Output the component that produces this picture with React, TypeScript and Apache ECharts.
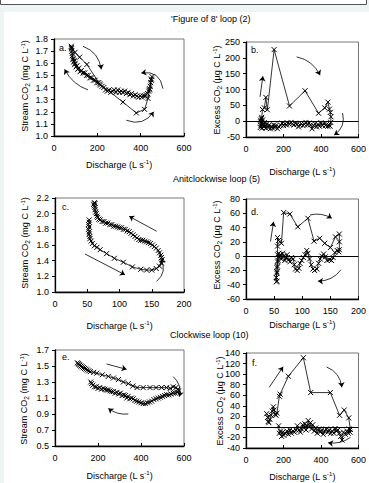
import React, { useEffect, useRef } from 'react';
import * as echarts from 'echarts';

type Pt = [number, number];
type Arrow = { from: Pt; to: Pt; curve: number };

const FONT = '"Liberation Sans", Arial, sans-serif';

const rowTitles = ["'Figure of 8' loop (2)", 'Anitclockwise loop (5)', 'Clockwise loop (10)'];
const panelLetters = ['a.', 'b.', 'c.', 'd.', 'e.', 'f.'];
const streamName = 'Stream CO{sub|2} (mg C L{sup|-1})';
const excessName = 'Excess CO{sub|2} (\u00b5g C L{sup|-1})';
const dischargeName = 'Discharge (L s{sup|-1})';

// axis ranges [min, max, interval]
const qWide = [0, 600, 200];
const qNarrow = [0, 200, 50];
const aStreamAxis = [1.0, 1.8, 0.1];
const bExcessAxis = [-50, 250, 50];
const cStreamAxis = [1.0, 2.2, 0.2];
const dExcessAxis = [-60, 80, 20];
const eStreamTicks = [0.5, 0.7, 0.9, 1.1, 1.3, 1.5, 1.7];
const fExcessAxis = [-40, 140, 20];

// ---- Panel a: figure-of-8 loop, stream CO2 ----
const aRising: Pt[] = [
  [80, 1.74], [97, 1.69], [118, 1.65], [152, 1.59], [211, 1.43], [318, 1.28],
  [380, 1.19], [418, 1.22], [434, 1.31], [441, 1.38], [449, 1.47],
];
const aFalling: Pt[] = [
  [452, 1.49], [449, 1.46], [446, 1.44], [444, 1.41], [441, 1.39], [437, 1.37], [432, 1.35],
  [426, 1.34], [419, 1.33], [412, 1.33], [405, 1.32], [398, 1.33], [390, 1.32], [382, 1.33],
  [374, 1.34], [366, 1.33], [358, 1.35], [350, 1.34], [342, 1.36], [334, 1.35], [326, 1.37],
  [318, 1.36], [310, 1.37], [302, 1.36], [294, 1.38], [286, 1.36], [278, 1.38], [270, 1.37],
  [262, 1.36], [254, 1.38], [246, 1.37], [238, 1.38], [230, 1.40], [222, 1.41], [214, 1.42],
  [206, 1.44], [198, 1.44], [190, 1.46], [182, 1.46], [174, 1.48], [166, 1.48], [158, 1.50],
  [150, 1.50], [142, 1.52], [134, 1.52], [126, 1.54], [120, 1.53], [114, 1.56], [110, 1.55],
  [106, 1.58], [102, 1.57], [98, 1.60], [96, 1.59], [93, 1.62], [91, 1.61], [89, 1.64],
  [87, 1.63], [85, 1.66], [84, 1.68], [82, 1.70], [81, 1.72], [80, 1.73],
];
const aArrows: Arrow[] = [
  { from: [134, 1.74], to: [218, 1.55], curve: 0.3 },
  { from: [157, 1.38], to: [49, 1.55], curve: 0.2 },
  { from: [334, 1.13], to: [460, 1.2], curve: -0.4 },
  { from: [503, 1.39], to: [403, 1.52], curve: -0.5 },
];

// ---- Panel b: figure-of-8 loop, excess CO2 ----
const bRising: Pt[] = [
  [78, 3], [84, 12], [88, 37], [98, 42], [106, 75], [114, 36], [150, 226], [232, 48],
  [315, 96], [387, 25], [420, 42], [437, 60], [445, 38], [450, 28], [453, 14],
];
const bFalling: Pt[] = [
  [452, -4], [448, -16], [442, -12], [436, -16], [430, -10], [424, -14], [416, -7], [408, -14],
  [400, -5], [392, -16], [384, -10], [376, -18], [368, -8], [360, -14], [352, -24], [344, -12],
  [336, -6], [328, -12], [320, -4], [312, -10], [304, -14], [296, -8], [288, -12], [280, -18],
  [272, -10], [264, -6], [256, -12], [248, -8], [240, -4], [232, -10], [224, -6], [216, -12],
  [208, -8], [200, -14], [192, -6], [184, -12], [176, -18], [168, -24], [160, -14], [154, -20],
  [148, -12], [142, -22], [136, -16], [130, -24], [124, -12], [118, -20], [112, -8], [106, -22],
  [102, -14], [98, -4], [95, -18], [92, -10], [89, 4], [86, -22], [84, -6], [82, 8], [80, -14],
  [78, -2], [76, -20],
];
const bArrows: Arrow[] = [
  { from: [75, 77], to: [90, 142], curve: 0 },
  { from: [270, 203], to: [395, 145], curve: 0.25 },
  { from: [515, 26], to: [470, -44], curve: 0.35 },
];

// ---- Panel c: anticlockwise loop, stream CO2 ----
const cRising: Pt[] = [
  [53, 1.92], [53, 1.89], [52, 1.86], [53, 1.83], [52, 1.80], [53, 1.77], [53, 1.74], [54, 1.71],
  [54, 1.68], [56, 1.65], [58, 1.62], [61, 1.59], [65, 1.57], [70, 1.54], [80, 1.49], [92, 1.43],
  [106, 1.38], [120, 1.32], [133, 1.29], [142, 1.28], [150, 1.28], [157, 1.30], [162, 1.33],
  [165, 1.37], [166, 1.41],
];
const cFalling: Pt[] = [
  [165, 1.44], [164, 1.47], [162, 1.50], [160, 1.53], [157, 1.56], [154, 1.58], [151, 1.60],
  [148, 1.62], [145, 1.63], [142, 1.64], [139, 1.65], [136, 1.66], [133, 1.66], [130, 1.67],
  [127, 1.69], [124, 1.71], [121, 1.73], [118, 1.75], [115, 1.77], [112, 1.78], [109, 1.80],
  [106, 1.80], [103, 1.82], [100, 1.82], [97, 1.83], [94, 1.84], [91, 1.84], [88, 1.86],
  [85, 1.86], [82, 1.88], [79, 1.88], [76, 1.90], [73, 1.90], [70, 1.92], [68, 1.93], [66, 1.95],
  [65, 1.97], [64, 2.00], [63, 2.02], [62, 2.05], [62, 2.08], [61, 2.10], [60, 2.12], [61, 2.14],
  [62, 2.13],
];
const cArrows: Arrow[] = [
  { from: [157.6, 1.775], to: [115, 1.966], curve: 0 },
  { from: [46.5, 1.485], to: [108.5, 1.22], curve: 0 },
  { from: [157.6, 1.136], to: [164, 1.42], curve: -0.4 },
];

// ---- Panel d: anticlockwise loop, excess CO2 ----
const dRising: Pt[] = [
  [54, -36], [54, -30], [55, -24], [55, -16], [56, -8], [56, 2], [56, 14], [56, 26], [58, 22],
  [60, 20], [63, 18], [67, 61], [78, 59], [92, 41], [110, 53], [121, 21], [131, 25], [140, 18],
  [150, 12], [159, 27], [166, 31], [166, 20], [166, 9],
];
const dFalling: Pt[] = [
  [165, 6], [162, 8], [158, 5], [155, -2], [152, -6], [148, -5], [144, -6], [141, -1], [138, 3],
  [135, 0], [132, -4], [129, -10], [126, -18], [122, -20], [119, -18], [116, -12], [113, -4],
  [110, 4], [108, 8], [105, 2], [102, -2], [99, -6], [96, -10], [94, -17], [91, -20], [88, -18],
  [86, -12], [84, -4], [81, -2], [78, -8], [76, -5], [73, 2], [71, -3], [69, -6], [67, 0],
  [65, 4], [63, -4], [61, 2], [59, -2], [58, 4], [57, -6], [56, -14], [55, -22], [54, -30],
  [55, -35],
];
const dArrows: Arrow[] = [
  { from: [43.5, 20.5], to: [49, 48], curve: 0 },
  { from: [114, 57.7], to: [152.6, 53], curve: 0.2 },
  { from: [169, -19], to: [128, -35], curve: 0.25 },
];

// ---- Panel e: clockwise loop, stream CO2 ----
const eRising: Pt[] = [
  [104, 1.54], [108, 1.53], [112, 1.52], [116, 1.51], [121, 1.50], [126, 1.49], [132, 1.48],
  [138, 1.47], [144, 1.46], [150, 1.45], [157, 1.44], [164, 1.43], [180, 1.42], [194, 1.41],
  [220, 1.39], [248, 1.37], [272, 1.35], [295, 1.33], [318, 1.30], [341, 1.28], [362, 1.25],
  [382, 1.23], [410, 1.23], [442, 1.23], [470, 1.23], [496, 1.23], [519, 1.23], [536, 1.22],
  [550, 1.24], [562, 1.23], [572, 1.21], [575, 1.19],
];
const eFalling: Pt[] = [
  [568, 1.17], [560, 1.16], [550, 1.16], [540, 1.15], [530, 1.14], [520, 1.14], [510, 1.13],
  [500, 1.12], [490, 1.11], [480, 1.10], [470, 1.09], [460, 1.08], [450, 1.06], [440, 1.05],
  [430, 1.04], [420, 1.03], [410, 1.03], [400, 1.04], [390, 1.05], [380, 1.06], [372, 1.07],
  [364, 1.09], [356, 1.10], [348, 1.09], [340, 1.12], [334, 1.10], [328, 1.13], [320, 1.14],
  [312, 1.13], [304, 1.16], [296, 1.15], [288, 1.17], [280, 1.16], [272, 1.18], [264, 1.18],
  [256, 1.19], [248, 1.20], [240, 1.20], [232, 1.21], [224, 1.22], [216, 1.21], [208, 1.23],
  [200, 1.22], [192, 1.24], [184, 1.24], [176, 1.26], [170, 1.28], [166, 1.30],
];
const eArrows: Arrow[] = [
  { from: [240, 1.525], to: [333, 1.458], curve: 0 },
  { from: [341, 0.9], to: [248, 0.97], curve: 0.2 },
  { from: [550, 1.367], to: [578, 1.117], curve: 0.3 },
];

// ---- Panel f: clockwise loop, excess CO2 ----
const fRising: Pt[] = [
  [110, 25], [115, 18], [118, 10], [122, 8], [128, 14], [134, 22], [140, 30], [146, 38],
  [150, 32], [155, 24], [160, 22], [165, 26], [178, 58], [182, 62], [226, 96], [306, 131],
  [345, 65], [450, 65], [499, 22], [524, 32], [548, 17], [557, -5],
];
const fFalling: Pt[] = [
  [555, -10], [550, -4], [545, -12], [538, -8], [530, -14], [520, -10], [512, -25], [505, -18],
  [498, -12], [490, -6], [482, -8], [475, -3], [468, -12], [460, -8], [452, -12], [444, -6],
  [436, -10], [428, -4], [420, -8], [412, -14], [404, -6], [396, -10], [388, -4], [380, -12],
  [372, -2], [364, -8], [356, 4], [350, -4], [344, 8], [338, 0], [332, 12], [326, 2], [320, -6],
  [314, 6], [308, -2], [302, 4], [296, -4], [290, -10], [282, -6], [274, 2], [266, -6],
  [258, -10], [250, -8], [242, -12], [234, -6], [226, -14], [218, -8], [210, -12], [202, -16],
  [196, -10], [190, -18], [184, -8], [178, -12], [174, 2],
];
const fArrows: Arrow[] = [
  { from: [124, 75], to: [198, 114], curve: 0 },
  { from: [430, 113.5], to: [511, 75], curve: 0.3 },
  { from: [557, -20], to: [438, -30], curve: 0.2 },
];

// ---- layout (pixels) ----
const layout = [
  { grid: { left: 54, top: 39, width: 130, height: 97 }, xGap: 23, yName: [25, 86], letter: [59, 48] },
  { grid: { left: 246, top: 42, width: 120, height: 95 }, xGap: 29, yName: [217, 90], letter: [251, 50] },
  { grid: { left: 55, top: 198, width: 129, height: 94 }, xGap: 28, yName: [25, 243], letter: [62, 207] },
  { grid: { left: 246, top: 199, width: 120, height: 100 }, xGap: 20, yName: [217, 245], letter: [251, 212] },
  { grid: { left: 55, top: 350, width: 129, height: 96 }, xGap: 24, yName: [24, 399], letter: [62, 357] },
  { grid: { left: 246, top: 353, width: 121, height: 98 }, xGap: 23, yName: [220, 401], letter: [252, 363] },
];
const titlePos = [[171, 19], [173, 179], [170, 335]];

const X_SYMBOL = 'path://M0,0L10,10M10,0L0,10';

const rich = {
  sup: { fontSize: 6, lineHeight: 6, verticalAlign: 'top', fontFamily: FONT, color: '#000', fill: '#000' },
  sub: { fontSize: 6.5, lineHeight: 6, verticalAlign: 'bottom', fontFamily: FONT, color: '#000', fill: '#000' },
};

function buildOption() {
  const panels = [
    { x: qWide, y: aStreamAxis, name: streamName, data: [...aRising, ...aFalling], arrows: aArrows, zero: false, dec: 1 },
    { x: qWide, y: bExcessAxis, name: excessName, data: [...bRising, ...bFalling], arrows: bArrows, zero: true, dec: 0 },
    { x: qNarrow, y: cStreamAxis, name: streamName, data: [...cRising, ...cFalling], arrows: cArrows, zero: false, dec: 1 },
    { x: qNarrow, y: dExcessAxis, name: excessName, data: [...dRising, ...dFalling], arrows: dArrows, zero: true, dec: 0 },
    { x: qWide, y: null as any, custom: eStreamTicks, name: streamName, data: [...eRising, ...eFalling], arrows: eArrows, zero: false, dec: 1 },
    { x: qWide, y: fExcessAxis, name: excessName, data: [...fRising, ...fFalling], arrows: fArrows, zero: true, dec: 0 },
  ];

  const grids: any[] = [];
  const xAxes: any[] = [];
  const yAxes: any[] = [];
  const series: any[] = [];
  const graphic: any[] = [
    { type: 'rect', z: -10, shape: { x: 4, y: 12, width: 365, height: 471 }, style: { fill: '#ffffff' } },
    { type: 'rect', z: -9, shape: { x: 0.5, y: -2, width: 366, height: 6.5 }, style: { fill: '#ffffff', stroke: '#555', lineWidth: 1 } },
  ];

  rowTitles.forEach((t, i) => {
    graphic.push({
      type: 'text', x: titlePos[i][0], y: titlePos[i][1],
      style: { text: t, fontSize: 9, fontFamily: FONT, fill: '#000', verticalAlign: 'middle' },
    });
  });

  panels.forEach((p: any, i) => {
    const L = layout[i];
    grids.push({ ...L.grid, show: true, borderColor: '#555', borderWidth: 0.8, backgroundColor: 'transparent' });
    graphic.push({
      type: 'text', x: L.letter[0], y: L.letter[1],
      style: { text: panelLetters[i], fontSize: 9, fontFamily: FONT, fill: '#000', verticalAlign: 'middle' },
    });
    graphic.push({
      type: 'text', x: L.yName[0], y: L.yName[1], rotation: Math.PI / 2,
      style: {
        text: p.name, rich, fontSize: 9, fontFamily: FONT, fill: '#000', lineHeight: 11,
        align: 'center', verticalAlign: 'middle',
      },
    });
    xAxes.push({
      gridIndex: i, type: 'value', min: p.x[0], max: p.x[1], interval: p.x[2],
      axisLine: { show: true, onZero: false, lineStyle: { color: '#000', width: 1.3 } },
      axisTick: { show: true, inside: true, length: 3, lineStyle: { color: '#000', width: 1 } },
      axisLabel: { fontSize: 9, fontFamily: FONT, color: '#000', margin: 7 },
      splitLine: { show: false },
      name: dischargeName, nameLocation: 'middle', nameGap: L.xGap,
      nameTextStyle: { fontSize: 9, fontFamily: FONT, color: '#000', lineHeight: 11, rich },
    });
    const yBase: any = {
      gridIndex: i, type: 'value',
      axisLine: { show: true, onZero: false, lineStyle: { color: '#000', width: 1.3 } },
      axisTick: { show: true, inside: false, length: 3, lineStyle: { color: '#000', width: 1 } },
      axisLabel: {
        fontSize: 9, fontFamily: FONT, color: '#000', margin: 6,
        formatter: (v: number) => (p.dec ? v.toFixed(p.dec) : String(Math.round(v))),
      },
      splitLine: { show: false },
    };
    if (p.custom) {
      yBase.min = p.custom[0];
      yBase.max = p.custom[p.custom.length - 1];
      yBase.axisLabel.customValues = p.custom;
      yBase.axisTick.customValues = p.custom;
    } else {
      yBase.min = p.y[0];
      yBase.max = p.y[1];
      yBase.interval = p.y[2];
    }
    yAxes.push(yBase);

    const s: any = {
      type: 'line', xAxisIndex: i, yAxisIndex: i, data: p.data,
      symbol: X_SYMBOL, symbolSize: 5, showAllSymbol: true,
      itemStyle: { color: '#000', borderColor: '#000', borderWidth: 1 },
      lineStyle: { color: '#000', width: 0.8 },
      silent: true, z: 3,
    };
    if (p.zero) {
      s.markLine = {
        silent: true, symbol: 'none', label: { show: false },
        lineStyle: { color: '#000', width: 1.2, type: 'solid' },
        data: [{ yAxis: 0 }],
      };
    }
    series.push(s);
    series.push({
      type: 'lines', coordinateSystem: 'cartesian2d', xAxisIndex: i, yAxisIndex: i,
      symbol: ['none', 'arrow'], symbolSize: 5, silent: true, z: 4,
      lineStyle: { color: '#000', width: 0.8, opacity: 1 },
      data: p.arrows.map((a: Arrow) => ({ coords: [a.from, a.to], lineStyle: { curveness: a.curve } })),
    });
  });

  return {
    animation: false,
    backgroundColor: '#eef3f3',
    graphic,
    grid: grids,
    xAxis: xAxes,
    yAxis: yAxes,
    series,
  };
}

export default function App() {
  const ref = useRef<HTMLDivElement>(null);
  useEffect(() => {
    if (!ref.current) return;
    const chart = echarts.init(ref.current, undefined, { renderer: 'svg' });
    chart.setOption(buildOption() as any);
    return () => chart.dispose();
  }, []);
  return (
    <div
      ref={ref}
      style={{ position: 'fixed', left: 0, top: 0, width: 369, height: 483 }}
    />
  );
}
